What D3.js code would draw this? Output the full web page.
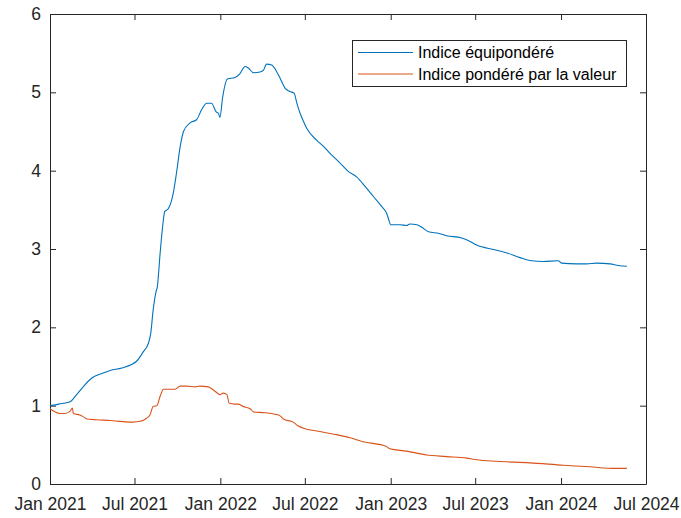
<!DOCTYPE html>
<html>
<head>
<meta charset="utf-8">
<script src="https://cdn.jsdelivr.net/npm/d3@7"></script>
<style>
  html, body { margin: 0; padding: 0; background: #ffffff; }
  svg { display: block; font-family: "Liberation Sans", Arial, Helvetica, sans-serif; }
</style>
</head>
<body>
<svg id="chart" width="681" height="518"></svg>
<script>
// Equal-weighted index, date / level
const eqDates = [
  "2021-01-01","2021-01-20","2021-02-13","2021-02-27","2021-03-13","2021-03-31","2021-04-22","2021-05-10",
  "2021-06-04","2021-07-06","2021-07-19","2021-07-31","2021-08-05","2021-08-10","2021-08-16","2021-08-19",
  "2021-08-25","2021-08-30","2021-09-04","2021-09-11","2021-09-22","2021-09-29","2021-10-07","2021-10-14",
  "2021-10-28","2021-11-11","2021-11-22","2021-12-03","2021-12-13","2021-12-23","2021-12-28","2021-12-31",
  "2022-01-06","2022-01-16","2022-02-01","2022-02-12","2022-02-23","2022-03-02","2022-03-13","2022-03-27",
  "2022-04-03","2022-04-10","2022-04-21","2022-05-02","2022-05-09","2022-05-20","2022-05-30","2022-06-08",
  "2022-06-14","2022-06-21","2022-06-28","2022-07-05","2022-07-26","2022-08-10","2022-08-24","2022-09-14",
  "2022-10-02","2022-10-20","2022-11-07","2022-11-25","2022-12-13","2022-12-23","2022-12-27","2023-01-01",
  "2023-01-21","2023-02-04","2023-02-11","2023-02-26","2023-03-08","2023-03-23","2023-04-13","2023-05-01",
  "2023-06-02","2023-06-16","2023-07-04","2023-08-12","2023-09-07","2023-10-05","2023-10-30","2023-11-24",
  "2023-12-26","2024-01-02","2024-02-03","2024-02-25","2024-03-17","2024-04-15","2024-05-03","2024-05-21"
];
const eqValues = [
  1.00, 1.02, 1.05, 1.14, 1.24, 1.35, 1.41, 1.45,
  1.48, 1.57, 1.68, 1.80, 1.93, 2.22, 2.45, 2.52,
  2.95, 3.27, 3.48, 3.51, 3.71, 3.97, 4.31, 4.50,
  4.61, 4.65, 4.78, 4.86, 4.86, 4.75, 4.73, 4.68,
  4.94, 5.17, 5.19, 5.24, 5.33, 5.31, 5.25, 5.26,
  5.28, 5.36, 5.35, 5.26, 5.18, 5.05, 5.01, 4.99,
  4.86, 4.73, 4.63, 4.54, 4.39, 4.31, 4.22, 4.10,
  3.99, 3.92, 3.80, 3.67, 3.54, 3.46, 3.39, 3.31,
  3.31, 3.30, 3.32, 3.31, 3.28, 3.22, 3.20, 3.17,
  3.14, 3.11, 3.05, 2.99, 2.95, 2.89, 2.85, 2.84,
  2.85, 2.82, 2.81, 2.81, 2.82, 2.81, 2.79, 2.78
];

// Value-weighted index, date / level
const vwDates = [
  "2021-01-01","2021-01-22","2021-02-02","2021-02-13","2021-02-18","2021-02-20","2021-03-06","2021-03-13",
  "2021-03-21","2021-04-11","2021-05-10","2021-05-31","2021-06-28","2021-07-13","2021-07-27","2021-08-03",
  "2021-08-10","2021-08-18","2021-08-25","2021-09-01","2021-09-26","2021-10-07","2021-10-21","2021-11-08",
  "2021-11-18","2021-12-06","2021-12-17","2021-12-28","2021-12-31","2022-01-07","2022-01-15","2022-01-20",
  "2022-02-01","2022-02-08","2022-02-19","2022-03-06","2022-03-13","2022-04-07","2022-04-28","2022-05-09",
  "2022-05-16","2022-06-06","2022-06-17","2022-07-05","2022-08-03","2022-09-07","2022-10-06","2022-11-03",
  "2022-12-23","2022-12-30","2023-02-04","2023-03-19","2023-05-01","2023-06-13","2023-07-04","2023-08-16",
  "2023-10-26","2024-01-06","2024-03-03","2024-04-22","2024-05-21"
];
const vwValues = [
  0.96, 0.90, 0.90, 0.93, 0.97, 0.90, 0.88, 0.86,
  0.83, 0.82, 0.81, 0.80, 0.79, 0.80, 0.84, 0.88,
  0.99, 1.00, 1.12, 1.21, 1.21, 1.25, 1.25, 1.24,
  1.25, 1.24, 1.20, 1.15, 1.14, 1.16, 1.14, 1.03,
  1.02, 1.02, 0.99, 0.96, 0.92, 0.91, 0.89, 0.87,
  0.83, 0.79, 0.74, 0.70, 0.67, 0.63, 0.59, 0.54,
  0.48, 0.45, 0.42, 0.37, 0.35, 0.33, 0.31, 0.29,
  0.27, 0.24, 0.22, 0.20, 0.20
];

const seriesNames = ["Indice équipondéré", "Indice pondéré par la valeur"];
const seriesColors = ["#0072BD", "#D95319"];
const xTickDates = ["2021-01-01","2021-07-01","2022-01-01","2022-07-01","2023-01-01","2023-07-01","2024-01-01","2024-07-01"];
const yTickValues = [0, 1, 2, 3, 4, 5, 6];

const parse = d3.timeParse("%Y-%m-%d");
const fmt = d3.timeFormat("%b %Y");

const svg = d3.select("#chart");
const plotLeft = 50, plotRight = 646, plotTop = 14, plotBottom = 484;
const axisColor = "#262626";
const tickLen = 6;

const x = d3.scaleTime()
  .domain([parse("2021-01-01"), parse("2024-07-01")])
  .range([plotLeft, plotRight]);
const y = d3.scaleLinear().domain([0, 6]).range([plotBottom, plotTop]);

const xTicks = xTickDates.map(parse);

// Axes with inward ticks on all four sides
const gB = svg.append("g").attr("transform", `translate(0,${plotBottom})`)
  .call(d3.axisBottom(x).tickValues(xTicks).tickFormat(fmt).tickSizeInner(-tickLen).tickSizeOuter(0).tickPadding(14));
const gT = svg.append("g").attr("transform", `translate(0,${plotTop})`)
  .call(d3.axisTop(x).tickValues(xTicks).tickFormat("").tickSizeInner(-tickLen).tickSizeOuter(0));
const gL = svg.append("g").attr("transform", `translate(${plotLeft},0)`)
  .call(d3.axisLeft(y).tickValues(yTickValues).tickFormat(d3.format("d")).tickSizeInner(-tickLen).tickSizeOuter(0).tickPadding(9));
const gR = svg.append("g").attr("transform", `translate(${plotRight},0)`)
  .call(d3.axisRight(y).tickValues(yTickValues).tickFormat("").tickSizeInner(-tickLen).tickSizeOuter(0));

[gB, gT, gL, gR].forEach(g => {
  g.select(".domain").attr("stroke", axisColor).attr("stroke-width", 1);
  g.selectAll(".tick line").attr("stroke", axisColor).attr("stroke-width", 1);
  g.selectAll(".tick text").attr("fill", axisColor)
    .style("font-family", "'Liberation Sans', Arial, Helvetica, sans-serif");
});
gB.selectAll(".tick text").style("font-size", "17.5px");
gL.selectAll(".tick text").style("font-size", "17.5px");

// Lines
const line = d3.line()
  .x(d => x(d.date))
  .y(d => y(d.value))
  .curve(d3.curveMonotoneX);

const series = [
  eqDates.map((d, i) => ({ date: parse(d), value: eqValues[i] })),
  vwDates.map((d, i) => ({ date: parse(d), value: vwValues[i] }))
];

series.forEach((data, i) => {
  svg.append("path")
    .datum(data)
    .attr("fill", "none")
    .attr("stroke", seriesColors[i])
    .attr("stroke-width", 1.1)
    .attr("stroke-linejoin", "round")
    .attr("d", line);
});

// Legend
const lg = svg.append("g");
lg.append("rect")
  .attr("x", 352.5).attr("y", 40.5)
  .attr("width", 274).attr("height", 46)
  .attr("fill", "#ffffff")
  .attr("stroke", axisColor).attr("stroke-width", 1);
seriesNames.forEach((name, i) => {
  const ly = 52.5 + i * 21.5;
  lg.append("line")
    .attr("x1", 358).attr("x2", 413)
    .attr("y1", ly).attr("y2", ly)
    .attr("stroke", seriesColors[i]).attr("stroke-width", 1.1);
  lg.append("text")
    .attr("x", 418).attr("y", ly)
    .attr("dy", "0.35em")
    .attr("fill", "#000000")
    .style("font-size", "16px")
    .text(name);
});
</script>
</body>
</html>
